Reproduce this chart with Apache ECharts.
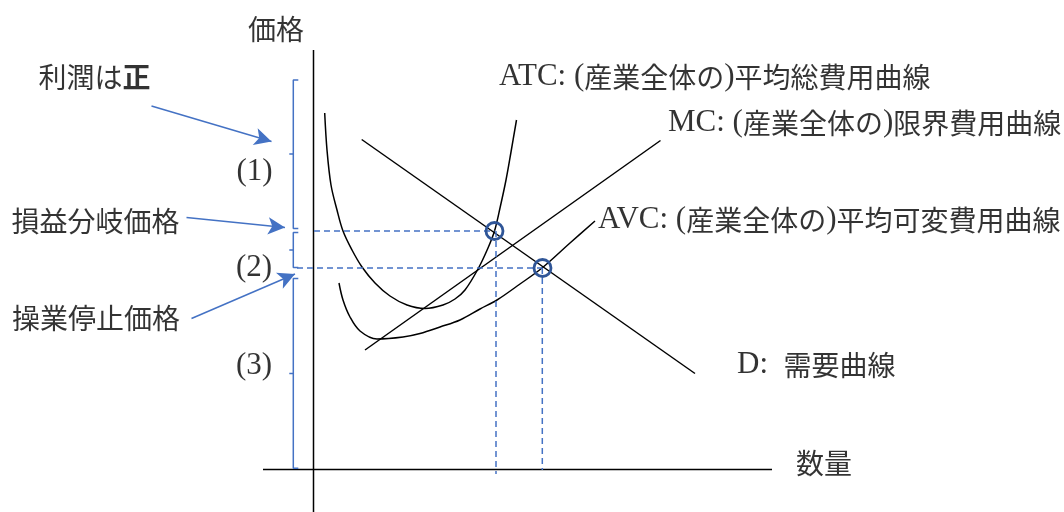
<!DOCTYPE html>
<html>
<head>
<meta charset="utf-8">
<script src="https://cdn.jsdelivr.net/npm/echarts@6/dist/echarts.min.js"></script>
<style>html,body{margin:0;padding:0;background:#fff}#c{width:1064px;height:512px}</style>
</head>
<body>
<div id="c"></div>
<script>
// ---- data (Q = quantity units, P = price units) ----
const atcCurve = [[2.24,71.3],[2.7,63.9],[3.5,56.9],[4.7,51.9],[5.9,47.7],[7.7,43.9],[9.7,40.5],[12.3,37.3],[15.3,34.7],[18.7,32.9],[22.3,32.2],[25.9,32.9],[28.3,34.1],[30.3,35.9],[32.9,40.1],[34.9,44.3],[36.2,47.7],[37.3,52.3],[38.5,57.9],[39.5,63.5],[40.6,69.9]];
const avcCurve = [[5.1,37.3],[5.9,33.9],[7.3,30.5],[9.3,27.7],[12.7,26.1],[17.9,26.5],[21.3,27.2],[25.3,28.5],[29.3,29.9],[33.3,32.1],[36.7,33.9],[41.3,37.1],[45.7,40.3],[51.3,45.3],[56.3,49.7]];
const mcLine = [[10.3,23.9],[69.4,65.8]];
const demandLine = [[9.64,66.0],[76.3,19.2]];
const equilibria = [[36.2,47.7],[45.8,40.3]];
const dashH1 = [[0.1,47.7],[36.2,47.7]];
const dashH2 = [[-3.3,40.3],[45.8,40.3]];
const dashV1 = [[36.5,47.7],[36.5,-0.9]];
const dashV2 = [[45.76,40.3],[45.76,-0.1]];
const axisQ = [[-10.1,0],[91.7,0]];
const axisP = [[0,83.9],[0,-8.5]];
// brackets: [x, top, bottom, middle]
const brackets = [[-4.04,77.9,48.2,63.1],[-4.04,47.4,40.4,43.9],[-4.04,38.2,0.24,19.2]];
// arrows: [tailQ, tailP, tipQ, tipP]
const arrows = [[-32.4,72.7,-8.4,65.6],[-25.4,50.4,-5.7,48.4],[-24.4,30.2,-3.7,39.1]];
// text labels: [text, Q(left), P(center)]
const textLabels = [
  ['価格', -13.1, 88.0],
  ['利潤は正', -55.0, 78.4],
  ['(1)', -15.4, 59.6],
  ['損益分岐価格', -60.4, 49.6],
  ['(2)', -15.5, 40.4],
  ['操業停止価格', -60.3, 30.2],
  ['(3)', -15.5, 20.7],
  ['数量', 96.5, 1.3],
  ['ATC: (産業全体の)平均総費用曲線', 37.1, 78.5],
  ['MC: (産業全体の)限界費用曲線', 70.9, 69.3],
  ['AVC: (産業全体の)平均可変費用曲線', 56.9, 49.9],
  ['D:  需要曲線', 84.7, 20.9]
];
const boldChars = ['正'];

const LATIN = "'Liberation Serif', serif";
const CJK = "'Noto Sans CJK JP', sans-serif";
const BLUE = '#4472C4';
const chart = echarts.init(document.getElementById('c'), null, {renderer: 'canvas'});

function toRich(text) {
  let out = '', cur = '', curType = null;
  const flush = () => { if (cur) out += '{' + curType + '|' + cur + '}'; cur = ''; };
  for (const ch of text) {
    let t = /[\u3000-\u9fff\uff00-\uffef]/.test(ch) ? 'c' : 'l';
    if (boldChars.includes(ch)) t = 'b';
    if (t !== curType) { flush(); curType = t; }
    cur += ch;
  }
  flush();
  return out;
}

function lineS(data, color, width, type, smooth) {
  return {type: 'line', data: data, showSymbol: false, symbol: 'none', clip: false, smooth: smooth || false,
    lineStyle: {color: color, width: width, type: type || 'solid'}, silent: true, z: 2};
}

const series = [];
series.push({
  type: 'scatter', data: equilibria, symbol: 'circle', symbolSize: 17, silent: true, z: 3,
  itemStyle: {color: 'rgba(255,255,255,0)', borderColor: '#2F5597', borderWidth: 2.8, opacity: 1}
});
series.push(lineS(axisQ, '#000', 1.5));
series.push(lineS(axisP, '#000', 1.5));
series.push(lineS(atcCurve, '#000', 1.5, 'solid', 0.35));
series.push(lineS(avcCurve, '#000', 1.5, 'solid', 0.35));
series.push(lineS(mcLine, '#000', 1.5));
series.push(lineS(demandLine, '#000', 1.5));
[dashH1, dashH2, dashV1, dashV2].forEach(d => series.push(lineS(d, BLUE, 1.5, [6, 4])));
brackets.forEach(b => {
  const [x, top, bot, mid] = b;
  const hook = x + 1, tick = x - 0.8;
  series.push(lineS([[hook, top],[x, top],[x, mid],[tick, mid],[x, mid],[x, bot],[hook, bot]], BLUE, 1.5));
});
series.push({
  type: 'line', data: [], silent: true,
  markLine: {
    silent: true, animation: false, symbol: ['none', 'arrow'], symbolSize: [13, 17],
    lineStyle: {color: BLUE, width: 1.5, type: 'solid'}, label: {show: false},
    data: arrows.map(a => [{coord: [a[0], a[1]]}, {coord: [a[2], a[3]]}])
  }
});
series.push({
  type: 'scatter', symbolSize: 0, silent: true, z: 6,
  data: textLabels.map(t => ({value: [t[1], t[2]], name: t[0]})),
  label: {
    show: true, position: 'right', distance: 0, color: '#000',
    formatter: p => toRich(p.name),
    rich: {
      l: {fontSize: 31, fontFamily: LATIN, color: '#000', lineHeight: 34, verticalAlign: 'middle'},
      c: {fontSize: 28, fontFamily: CJK, color: '#000', lineHeight: 34, verticalAlign: 'middle'},
      b: {fontSize: 28, fontFamily: CJK, color: '#000', fontWeight: 'bold', lineHeight: 34, verticalAlign: 'middle'}
    }
  }
});

chart.setOption({
  animation: false,
  grid: {left: 0, right: 0, top: 0, bottom: 0},
  xAxis: {type: 'value', min: -62.7, max: 150.1, show: false},
  yAxis: {type: 'value', min: -8.5, max: 93.9, show: false},
  series: series
});
</script>
</body>
</html>
